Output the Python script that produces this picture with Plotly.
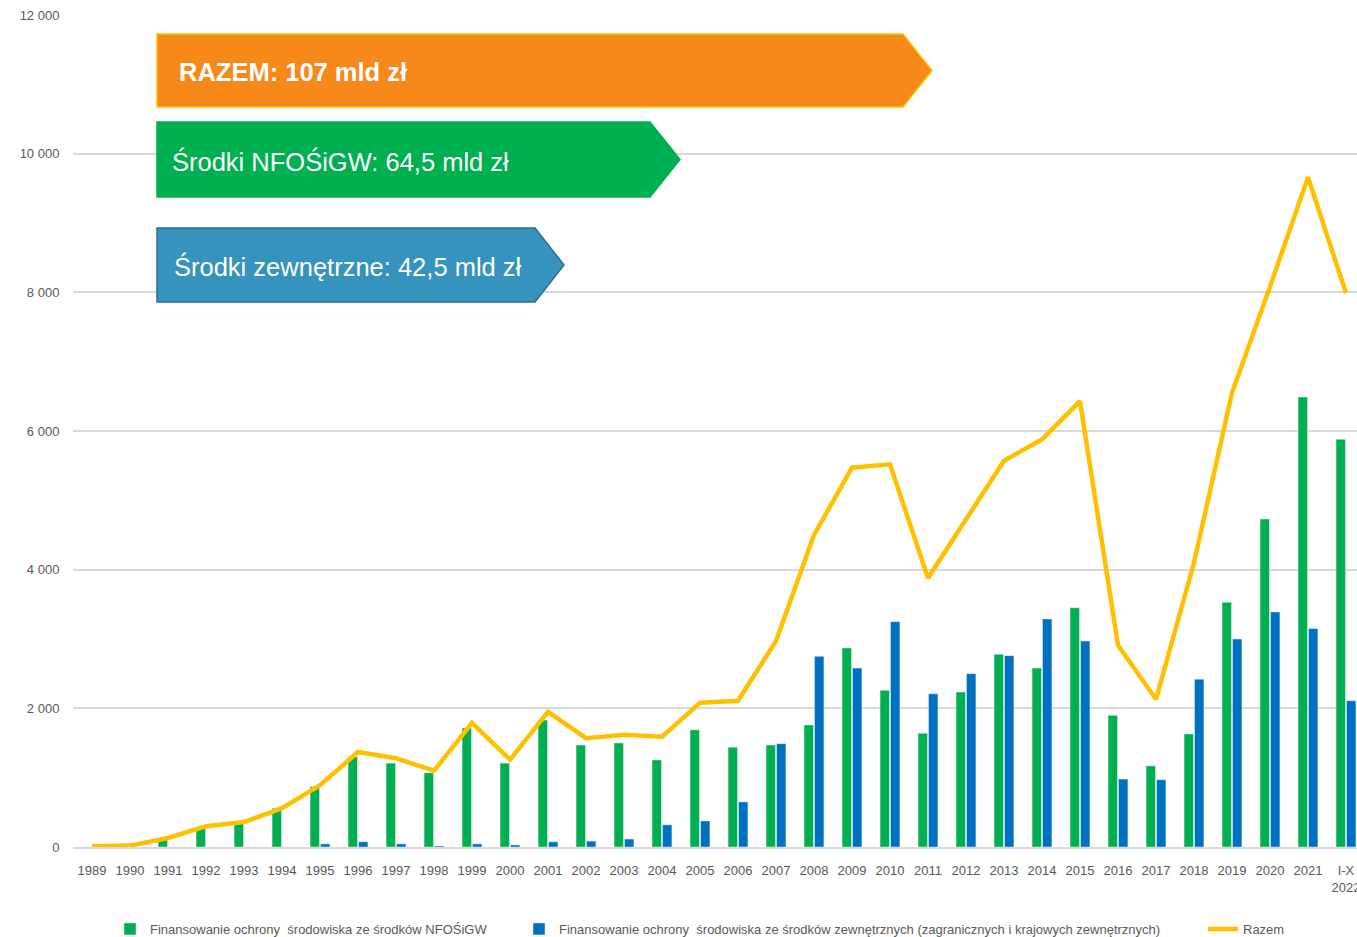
import plotly.graph_objects as go

years = ["1989", "1990", "1991", "1992", "1993", "1994", "1995", "1996", "1997", "1998",
         "1999", "2000", "2001", "2002", "2003", "2004", "2005", "2006", "2007", "2008",
         "2009", "2010", "2011", "2012", "2013", "2014", "2015", "2016", "2017", "2018",
         "2019", "2020", "2021", "I-X<br>2022"]

nfosigw = [0, 0, 100, 290, 345, 560, 870, 1300, 1210, 1070,
           1715, 1210, 1830, 1470, 1500, 1255, 1690, 1440, 1470, 1760,
           2870, 2260, 1640, 2235, 2780, 2580, 3450, 1900, 1170, 1630,
           3530, 4730, 6490, 5880]

zewnetrzne = [0, 0, 0, 0, 0, 0, 45, 75, 45, 15,
              45, 30, 75, 85, 115, 320, 375, 650, 1490, 2750,
              2580, 3250, 2210, 2500, 2760, 3290, 2970, 980, 970, 2420,
              3000, 3390, 3150, 2110]

razem = [10, 20, 130, 300, 360, 560, 890, 1370, 1280, 1100,
         1790, 1260, 1950, 1570, 1620, 1590, 2080, 2110, 2970, 4500,
         5470, 5520, 3880, 4730, 5570, 5880, 6430, 2910, 2130, 4100,
         6550, 8080, 9660, 7990]

legend_names = [
    "Finansowanie ochrony  środowiska ze środków NFOŚiGW",
    "Finansowanie ochrony  środowiska ze środków zewnętrznych (zagranicznych i krajowych zewnętrznych)",
    "Razem",
]

banner_texts = ["<b>RAZEM: 107 mld zł</b>", "Środki NFOŚiGW: 64,5 mld zł", "Środki zewnętrzne: 42,5 mld zł"]

W, H = 1357, 937
ML, MT, MB = 73, 15, 90
PW = W - ML
PH = H - MT - MB

def px(x):
    return (x - ML) / PW

def py(y):
    return (H - MB - y) / PH

FONT = "Liberation Sans, Arial, sans-serif"
GREY = "#595959"

fig = go.Figure()
fig.add_trace(go.Bar(x=years, y=nfosigw, name=legend_names[0], marker_color="#00b050",
                     legend="legend"))
fig.add_trace(go.Bar(x=years, y=zewnetrzne, name=legend_names[1], marker_color="#0070c0",
                     legend="legend2"))
fig.add_trace(go.Scatter(x=years, y=razem, name=legend_names[2], mode="lines",
                         line=dict(color="#ffc000", width=4.5), legend="legend3"))

shapes = []
banners = [
    (157, 903, 932, 34, 107, "#f7891a", "#ffc000"),
    (157, 650, 680, 122, 197, "#00b050", "#00b050"),
    (157, 535, 564, 228, 302, "#3593bd", "#2b6e8f"),
]
annotations = []
text_x = [177, 170, 172]
for (l, r, tip, t, b, fill, edge), txt, tx in zip(banners, banner_texts, text_x):
    m = (t + b) / 2
    path = (f"M {px(l)},{py(t)} L {px(r)},{py(t)} L {px(tip)},{py(m)} "
            f"L {px(r)},{py(b)} L {px(l)},{py(b)} Z")
    shapes.append(dict(type="path", path=path, xref="paper", yref="paper",
                       fillcolor=fill, line=dict(color=edge, width=1.5), layer="above"))
    annotations.append(dict(text=txt, x=px(tx), y=py(m + 1.5), xref="paper", yref="paper",
                            xanchor="left", yanchor="middle", showarrow=False,
                            font=dict(family=FONT, size=25.5, color="white")))

leg_common = dict(orientation="h", yanchor="middle", xanchor="left",
                  font=dict(family=FONT, size=13, color=GREY), bgcolor="rgba(0,0,0,0)")

fig.update_layout(
    width=W, height=H,
    margin=dict(l=ML, r=0, t=MT, b=MB, autoexpand=False),
    paper_bgcolor="white", plot_bgcolor="white",
    separators=", ",
    showlegend=True,
    barmode="group", bargap=0.45, bargroupgap=0.1,
    font=dict(family=FONT, size=13, color=GREY),
    shapes=shapes, annotations=annotations,
    xaxis=dict(type="category", range=[-0.5, 33.29], showgrid=False,
               showline=True, linecolor="#d9d9d9", linewidth=2,
               tickfont=dict(family=FONT, size=13, color=GREY),
               ticks="outside", ticklen=10, tickcolor="rgba(0,0,0,0)",
               automargin=False),
    yaxis=dict(range=[0, 12000], dtick=2000, tickformat=",d", showgrid=True,
               gridcolor="#d9d9d9", gridwidth=1.5, zeroline=False, showline=False,
               tickfont=dict(family=FONT, size=13, color=GREY), ticks="outside",
               ticklen=10, tickcolor="rgba(0,0,0,0)", automargin=False),
    legend=dict(x=px(110), y=py(929), **leg_common),
    legend2=dict(x=px(519), y=py(929), **leg_common),
    legend3=dict(x=px(1203), y=py(929), **leg_common),
)

fig.write_html("out.html", config={"displayModeBar": False},
               post_script="document.body.style.margin='0';")
